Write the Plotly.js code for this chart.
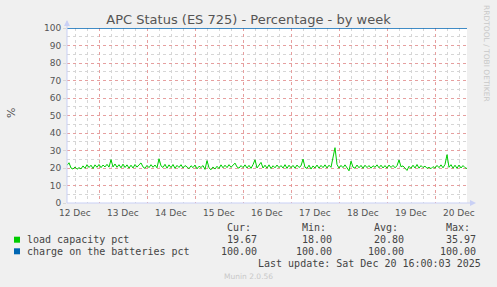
<!DOCTYPE html>
<html><head><meta charset="utf-8">
<script src="https://cdn.plot.ly/plotly-3.0.1.min.js"></script>
<style>html,body{margin:0;padding:0;background:#f0f0f0;}#chart{width:497px;height:287px;}</style>
</head><body><div id="chart"></div>
<script>
// ---- data ----
const startTime = '2025-12-12 08:00';
const endTime = '2025-12-20 16:00';
// hourly readings of load capacity (%), starting 12 Dec 08:00
const loadCapacity = [
  21.5, 23.0, 20.0, 19.4, 20.6, 19.3, 20.2, 19.5, 21.2, 19.8, 21.9, 20.3, 21.6, 19.7, 21.8, 20.4, 22.0, 20.2, 21.7, 20.6, 22.1, 20.5, 24.8, 20.6,
  22.3, 20.4, 21.9, 20.1, 22.2, 20.3, 21.8, 19.9, 21.6, 20.0, 22.0, 20.5, 21.8, 22.9, 20.6, 19.8, 21.5, 20.2, 21.9, 20.4, 21.7, 20.1, 25.3, 21.2,
  20.3, 22.1, 19.9, 21.8, 20.2, 22.0, 19.8, 21.5, 20.3, 21.9, 20.0, 21.4, 20.6, 19.6, 21.3, 20.2, 21.7, 19.5, 21.0, 20.3, 21.4, 19.2, 24.2, 20.1,
  19.0, 20.6, 19.4, 21.0, 19.7, 21.8, 20.1, 21.6, 20.2, 21.9, 20.4, 21.7, 22.8, 20.6, 19.9, 21.4, 20.2, 21.8, 20.0, 21.5, 19.8, 21.9, 24.7, 20.0,
  21.8, 23.2, 20.0, 21.6, 19.9, 21.8, 19.7, 21.3, 20.1, 21.7, 20.2, 21.4, 20.0, 21.9, 19.8, 21.6, 20.1, 21.5, 19.9, 21.7, 20.3, 21.2, 25.1, 20.4,
  19.8, 21.6, 19.4, 21.2, 20.0, 21.7, 19.9, 21.5, 20.2, 21.8, 20.0, 21.6, 20.4, 25.4, 31.6, 22.0, 19.9, 21.5, 20.2, 21.8, 20.0, 18.4, 23.9, 20.5,
  19.9, 21.7, 20.1, 21.5, 19.8, 21.6, 20.2, 21.4, 19.9, 21.3, 20.4, 21.8, 20.1, 21.6, 20.0, 21.4, 19.9, 21.7, 20.3, 21.5, 20.1, 21.3, 24.6, 20.7,
  21.2, 20.0, 18.6, 21.0, 19.8, 21.6, 20.0, 22.0, 19.9, 21.4, 20.2, 21.1, 19.8, 20.4, 19.6, 20.8, 19.9, 21.5, 20.2, 21.8, 20.1, 22.0, 27.6, 20.4,
  21.9, 19.9, 21.6, 19.8, 21.7, 20.0, 21.4, 20.2, 19.67
];
const chargeTimes = [startTime, endTime];
const chargeBatteries = [100, 100];
const seriesNames = ['load capacity pct', 'charge on the batteries pct'];
const seriesColors = ['#00cc00', '#0066b3'];
const statHeaders = ['Cur:', 'Min:', 'Avg:', 'Max:'];
const loadStats = ['19.67', '18.00', '20.80', '35.97'];
const chargeStats = ['100.00', '100.00', '100.00', '100.00'];
const dayLabels = ['12 Dec', '13 Dec', '14 Dec', '15 Dec', '16 Dec', '17 Dec', '18 Dec', '19 Dec', '20 Dec'];
const dayLabelDates = ['2025-12-12 12:00', '2025-12-13 12:00', '2025-12-14 12:00', '2025-12-15 12:00', '2025-12-16 12:00', '2025-12-17 12:00', '2025-12-18 12:00', '2025-12-19 12:00', '2025-12-20 12:00'];
const midnightTicks = ['2025-12-13', '2025-12-14', '2025-12-15', '2025-12-16', '2025-12-17', '2025-12-18', '2025-12-19', '2025-12-20'];
const yTicks = [0, 10, 20, 30, 40, 50, 60, 70, 80, 90, 100];
const titleText = 'APC Status (ES 725) - Percentage - by week';
const lastUpdate = 'Last update: Sat Dec 20 16:00:03 2025';

// ---- build ----
const t0 = Date.UTC(2025, 11, 12, 8, 0, 0);
const loadTimes = loadCapacity.map((_, i) => new Date(t0 + i * 3600000).toISOString().slice(0, 16).replace('T', ' '));

const L = 67, R = 467, T = 28, B = 203, W = 497, H = 287;
const px = x => (x - L) / (R - L);
const py = y => (B - y) / (B - T);

const gridMajor = 'rgba(235,140,140,0.75)';
const gridMinor = '#d6d6d6';
const axisCol = '#c9d0f5';
const mono = 'DejaVu Sans Mono';
const txt = '#444';

const traces = [
  {x: loadTimes, y: loadCapacity, type: 'scatter', mode: 'lines', line: {color: seriesColors[0], width: 1}, name: seriesNames[0], hoverinfo: 'skip'},
  {x: chargeTimes, y: chargeBatteries, type: 'scatter', mode: 'lines', line: {color: seriesColors[1], width: 1.5}, name: seriesNames[1], hoverinfo: 'skip'}
];

const annotations = [];
dayLabels.forEach((lab, i) => annotations.push({
  x: dayLabelDates[i], xref: 'x', y: py(212.7), yref: 'paper', text: lab, showarrow: false,
  xanchor: 'center', yanchor: 'middle', font: {family: 'DejaVu Sans', size: 9, color: '#555'}
}));
annotations.push({x: px(11), xref: 'paper', y: py(113), yref: 'paper', text: '%', textangle: -90, showarrow: false,
  xanchor: 'center', yanchor: 'middle', font: {family: 'DejaVu Sans', size: 11, color: '#555'}});
annotations.push({x: px(487), xref: 'paper', y: py(53), yref: 'paper', text: 'RRDTOOL / TOBI OETIKER', textangle: 90, showarrow: false,
  xanchor: 'center', yanchor: 'middle', font: {family: 'DejaVu Sans', size: 7.5, color: '#c8c8c8'}});
// legend
const colRight = [258, 333, 405, 477];
const rowsY = [227.7, 239.7, 251.3];
statHeaders.forEach((h, i) => annotations.push({x: px(colRight[i] - 6), xref: 'paper', y: py(rowsY[0]), yref: 'paper', text: h,
  showarrow: false, xanchor: 'right', yanchor: 'middle', borderpad: 0, font: {family: mono, size: 10, color: txt}}));
[loadStats, chargeStats].forEach((stats, r) => {
  annotations.push({x: px(26), xref: 'paper', y: py(rowsY[r + 1]), yref: 'paper', text: seriesNames[r], showarrow: false,
    xanchor: 'left', yanchor: 'middle', borderpad: 0, font: {family: mono, size: 10, color: txt}});
  stats.forEach((s, i) => annotations.push({x: px(colRight[i]), xref: 'paper', y: py(rowsY[r + 1]), yref: 'paper', text: s,
    showarrow: false, xanchor: 'right', yanchor: 'middle', borderpad: 0, font: {family: mono, size: 10, color: txt}}));
});
annotations.push({x: px(482), xref: 'paper', y: py(263.7), yref: 'paper', text: lastUpdate, showarrow: false,
  xanchor: 'right', yanchor: 'middle', borderpad: 0, font: {family: mono, size: 10, color: txt}});
annotations.push({x: px(248), xref: 'paper', y: py(276), yref: 'paper', text: 'Munin 2.0.56', showarrow: false,
  xanchor: 'center', yanchor: 'middle', font: {family: 'DejaVu Sans', size: 7.5, color: '#c8c8c8'}});

const shapes = [
  // axis lines with arrows
  {type: 'line', xref: 'paper', yref: 'paper', x0: px(67), x1: px(67), y0: py(203), y1: py(21), line: {color: axisCol, width: 1}},
  {type: 'line', xref: 'paper', yref: 'paper', x0: px(67), x1: px(473), y0: py(203), y1: py(203), line: {color: axisCol, width: 1}},
  {type: 'path', xref: 'paper', yref: 'paper', path: `M ${px(64)} ${py(26)} L ${px(70)} ${py(26)} L ${px(67)} ${py(20)} Z`, fillcolor: axisCol, line: {width: 0}},
  {type: 'path', xref: 'paper', yref: 'paper', path: `M ${px(470)} ${py(200)} L ${px(470)} ${py(206)} L ${px(476)} ${py(203)} Z`, fillcolor: axisCol, line: {width: 0}}
];
seriesColors.forEach((c, r) => shapes.push({type: 'rect', xref: 'paper', yref: 'paper',
  x0: px(14), x1: px(20), y0: py(rowsY[r + 1] - 3), y1: py(rowsY[r + 1] + 3), fillcolor: c, line: {width: 0}}));

const layout = {
  width: W, height: H,
  margin: {l: L, r: W - R, t: T, b: H - B, pad: 0},
  paper_bgcolor: '#f0f0f0', plot_bgcolor: '#ffffff',
  showlegend: false,
  title: {text: titleText, font: {family: 'DejaVu Sans', size: 13, color: '#555'}, x: 0.5, xref: 'container', xanchor: 'center',
    y: 1 - 19 / H, yref: 'container', yanchor: 'middle'},
  xaxis: {type: 'date', range: [startTime, endTime], tickvals: midnightTicks, showticklabels: false, ticks: '',
    showgrid: true, gridcolor: gridMajor, griddash: 'dot', gridwidth: 1, zeroline: false, showline: false, fixedrange: true,
    minor: {tick0: '2025-12-12', dtick: 21600000, showgrid: true, gridcolor: gridMinor, griddash: 'dot', gridwidth: 1}},
  yaxis: {range: [0, 100], tickvals: yTicks, ticks: 'outside', ticklen: 3, tickcolor: '#d8d8d8',
    tickfont: {family: 'DejaVu Sans', size: 9, color: '#555'},
    showgrid: true, gridcolor: gridMajor, griddash: 'dot', gridwidth: 1, zeroline: false, showline: false, fixedrange: true,
    minor: {dtick: 5, showgrid: true, gridcolor: gridMinor, griddash: 'dot', gridwidth: 1}},
  annotations, shapes
};
Plotly.newPlot('chart', traces, layout, {staticPlot: true, displayModeBar: false});
</script></body></html>
